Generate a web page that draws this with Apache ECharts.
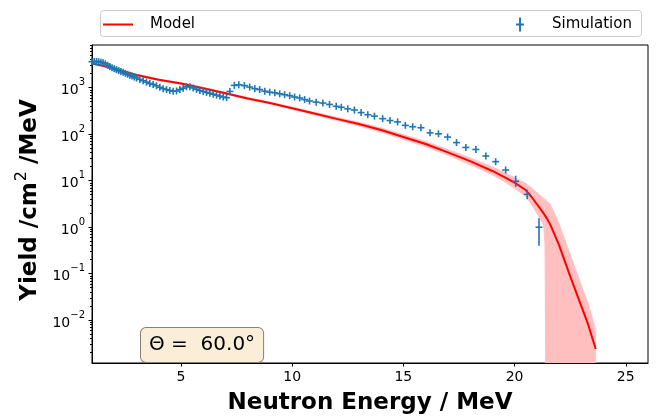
<!DOCTYPE html>
<html><head><meta charset="utf-8">
<script src="https://cdn.jsdelivr.net/npm/echarts@6/dist/echarts.min.js"></script>
<style>html,body{margin:0;padding:0;background:#fff}#c{width:659px;height:420px}</style>
</head><body><div id="c"></div>
<script>
// ---- axis settings ----
const xTicks = [5, 10, 15, 20, 25];
const yTickValues = [0.01, 0.1, 1, 10, 100, 1000];
const xRange = [1, 26];
const yRange = [0.0012, 8300];

// ---- Model (red line) ----
const modelE = [1.0,1.5,2.0,2.5,3.0,4.0,5.0,6.0,7.0,8.0,9.0,10.0,11.0,12.0,13.0,14.0,15.0,16.0,17.0,18.0,19.0,19.5,20.0,20.5,20.75,21.0,21.3,21.45,21.6,21.8,22.0,22.5,23.0,23.3,23.65];
const modelY = [3310,2950,2570,2190,1880,1480,1230,977,759,589,468,363,279,214,166,123,87,61.7,40.7,26.3,16.2,12.3,9.1,6.3,4.57,3.16,2.0,1.55,1.15,0.69,0.41,0.089,0.020,0.0083,0.0024];

// ---- Model uncertainty band ----
const bandE = [1,2,3,4,5,6,7,8,9,10,11,12,13,14,15,16,17,18,19,19.5,20,20.5,20.75,21.0,21.3,21.36,21.4,21.6,21.8,22.0,22.5,23.0,23.3,23.65];
const bandHigh = [3470,2690,1970,1550,1290,1023,798,619,494,385,299,232,184,138,98.9,70.8,47.3,31.3,20.0,15.5,11.7,8.9,7.1,5.6,4.2,3.98,3.8,3.16,2.0,1.2,0.263,0.0575,0.0234,0.00646];
const bandLow = [3160,2450,1800,1410,1175,933,721,560,443,343,260,197,150,110,76.7,53.7,35.1,22.1,13.2,9.8,6.9,4.6,3.1,2.0,1.12,0.5,0,0,0,0,0,0,0,0];

// ---- Simulation (blue error bars) ----
const simE = [1.0,1.1,1.2,1.3,1.4,1.5,1.6,1.7,1.8,1.9,2.0,2.1,2.2,2.3,2.4,2.5,2.6,2.7,2.8,2.9,3.0,3.15,3.3,3.45,3.6,3.75,3.9,4.05,4.2,4.35,4.5,4.65,4.8,4.95,5.1,5.25,5.4,5.55,5.7,5.85,6.0,6.15,6.3,6.45,6.6,6.75,6.9,7.05,7.2,7.4,7.6,7.85,8.09,8.32,8.54,8.77,8.99,9.22,9.44,9.66,9.89,10.11,10.34,10.56,10.78,11.08,11.38,11.68,11.98,12.21,12.5,12.8,13.1,13.4,13.7,14.07,14.4,14.74,15.09,15.42,15.79,16.2,16.58,16.99,17.39,17.81,18.26,18.71,19.15,19.6,20.05,20.57,21.1];
const simY = [3630,3670,3670,3630,3550,3430,3270,3050,2850,2690,2570,2450,2340,2240,2140,2040,1950,1860,1780,1700,1620,1510,1410,1320,1230,1175,1100,1020,955,912,871,841,851,912,977,1047,1047,989,923,871,832,794,759,724,692,661,631,610,832,1122,1160,1110,1035,955,912,841,804,776,741,708,676,631,603,556,519,490,468,437,398,380,351,331,292,263,245,216,197,184,155,145,138,107,102,87,66,52,47,34,25.7,17,9.7,5.1,1.0];
const simErrE = [20.05, 20.57, 21.1];
const simErrLow = [2.3, 1.1, 0.6];
const simErrHigh = [3.1, 1.3, 0.55];

const annotation = '\u0398 =  60.0\u00b0';

// ---- build ----
const L = v => Math.log10(Math.max(v, 1e-12));
const font = 'DejaVu Sans';
const majorLogs = yTickValues.map(L);
const yMin = L(yRange[0]), yMax = L(yRange[1]);
const minorLogs = [];
for (let e = -4; e <= 4; e++) {
  for (let m = 2; m <= 9; m++) {
    const lv = Math.log10(m) + e;
    if (lv > yMin && lv < yMax) minorLogs.push(lv);
  }
}
const simData = simE.map((e, i) => {
  const j = simErrE.indexOf(e);
  const y = simY[i];
  const lo = j >= 0 ? y - simErrLow[j] : y;
  const hi = j >= 0 ? y + simErrHigh[j] : y;
  return [e, L(y), L(lo), L(hi)];
});
const bandData = bandE.map((e, i) => [e, L(bandLow[i]), L(bandHigh[i])]);
const supText = v => {
  const e = Math.round(v);
  return '{b|10}{s|' + (e < 0 ? '\u2212' + (-e) : String(e)) + '}';
};

const chart = echarts.init(document.getElementById('c'), null, {renderer: 'canvas'});
chart.setOption({
  animation: false,
  backgroundColor: '#fff',
  textStyle: {fontFamily: font},
  grid: {left: 92, right: 11, top: 45, bottom: 54, show: true, borderColor: '#000', borderWidth: 1, backgroundColor: 'transparent'},
  legend: {
    left: 103, top: 17, padding: 0, itemWidth: 30, itemHeight: 14, itemGap: 321,
    selectedMode: false,
    textStyle: {fontFamily: font, fontSize: 15, color: '#000', padding: [0, 0, 0, 12]},
    data: [
      {name: 'Model', icon: 'path://M0,0H30V2H0Z'},
      {name: 'Simulation', icon: 'path://M3,0H5V14H3ZM0,6H8V8H0Z'}
    ]
  },
  xAxis: {
    type: 'value', min: xRange[0], max: xRange[1],
    axisLine: {show: true, onZero: false, lineStyle: {color: '#000', width: 1}},
    axisTick: {show: true, customValues: xTicks, length: 3.5, lineStyle: {color: '#000'}},
    axisLabel: {customValues: xTicks, color: '#000', fontSize: 14, fontFamily: font, margin: 7},
    splitLine: {show: false},
    name: 'Neutron Energy / MeV', nameLocation: 'middle', nameGap: 29,
    nameTextStyle: {fontFamily: font, fontWeight: 'bold', fontSize: 23, color: '#000'}
  },
  yAxis: [{
    type: 'value', min: yMin, max: yMax,
    axisLine: {show: true, onZero: false, lineStyle: {color: '#000', width: 1}},
    axisTick: {show: true, customValues: majorLogs, length: 3.5, lineStyle: {color: '#000'}},
    axisLabel: {
      customValues: majorLogs, margin: 7, formatter: supText,
      rich: {
        b: {fontSize: 14, fontFamily: font, color: '#000', lineHeight: 20, verticalAlign: 'bottom'},
        s: {fontSize: 10, fontFamily: font, color: '#000', lineHeight: 11, verticalAlign: 'top'}
      }
    },
    splitLine: {show: false},
    name: '{a|Yield /cm}{s|2}{a|/MeV}', nameLocation: 'middle', nameGap: 50,
    nameTextStyle: {
      fontFamily: font, fontWeight: 'bold', fontSize: 23, color: '#000', padding: [0, 0, 0, 8],
      rich: {
        a: {fontFamily: font, fontWeight: 'bold', fontSize: 23, color: '#000', lineHeight: 28, verticalAlign: 'bottom'},
        s: {fontFamily: font, fontWeight: 'normal', fontSize: 16, color: '#000', lineHeight: 14, verticalAlign: 'top', padding: [0, 7, 0, 1]}
      }
    }
  }, {
    type: 'value', min: yMin, max: yMax, position: 'left',
    axisLine: {show: false},
    axisTick: {show: true, customValues: minorLogs, length: 2, lineStyle: {color: '#000'}},
    axisLabel: {show: false},
    splitLine: {show: false}
  }],
  graphic: [
    {type: 'rect', left: 100, top: 10, z: 0, shape: {width: 541, height: 26, r: 3},
     style: {fill: '#fff', stroke: '#cccccc', lineWidth: 1}},
    {type: 'text', left: 140, top: 327, z: 10,
     style: {text: annotation, font: '20px "DejaVu Sans"', fill: '#000',
             backgroundColor: '#faeed9', borderColor: '#808080', borderWidth: 1, borderRadius: 5,
             padding: [5, 8], lineHeight: 24}}
  ],
  series: [
    {type: 'custom', data: bandData, encode: {x: 0, y: 2}, z: 1, silent: true, clip: true,
     renderItem: function (params, api) {
       const i = params.dataIndexInside;
       if (i >= bandData.length - 1) return null;
       const cs = params.coordSys;
       const bottom = cs.y + cs.height;
       const cl = y => Math.min(y, bottom);
       const p0h = api.coord([api.value(0, i), api.value(2, i)]);
       const p0l = api.coord([api.value(0, i), api.value(1, i)]);
       const p1h = api.coord([api.value(0, i + 1), api.value(2, i + 1)]);
       const p1l = api.coord([api.value(0, i + 1), api.value(1, i + 1)]);
       return {type: 'polygon', shape: {points: [
         [p0h[0], cl(p0h[1])], [p1h[0], cl(p1h[1])], [p1l[0], cl(p1l[1])], [p0l[0], cl(p0l[1])]
       ]}, style: {fill: '#ffbfbf', stroke: '#ffbfbf', lineWidth: 0.6}};
     }},
    {type: 'line', name: 'Model', data: modelE.map((e, i) => [e, L(modelY[i])]),
     symbol: 'none', lineStyle: {color: '#ff0000', width: 2}, itemStyle: {color: '#ff0000'}, z: 3},
    {type: 'custom', name: 'Simulation', data: simData, encode: {x: 0, y: 1}, z: 5,
     itemStyle: {color: '#1f77b4'},
     renderItem: function (params, api) {
       const c = api.coord([api.value(0), api.value(1)]);
       const cLo = api.coord([api.value(0), api.value(2)]);
       const cHi = api.coord([api.value(0), api.value(3)]);
       const h = 3.5;
       const top = Math.min(c[1] - h, cHi[1]);
       const bot = Math.max(c[1] + h, cLo[1]);
       const st = {stroke: '#1f77b4', lineWidth: 1.6};
       return {type: 'group', children: [
         {type: 'line', shape: {x1: c[0] - h, y1: c[1], x2: c[0] + h, y2: c[1]}, style: st},
         {type: 'line', shape: {x1: c[0], y1: top, x2: c[0], y2: bot}, style: st}
       ]};
     }}
  ]
});
</script></body></html>
